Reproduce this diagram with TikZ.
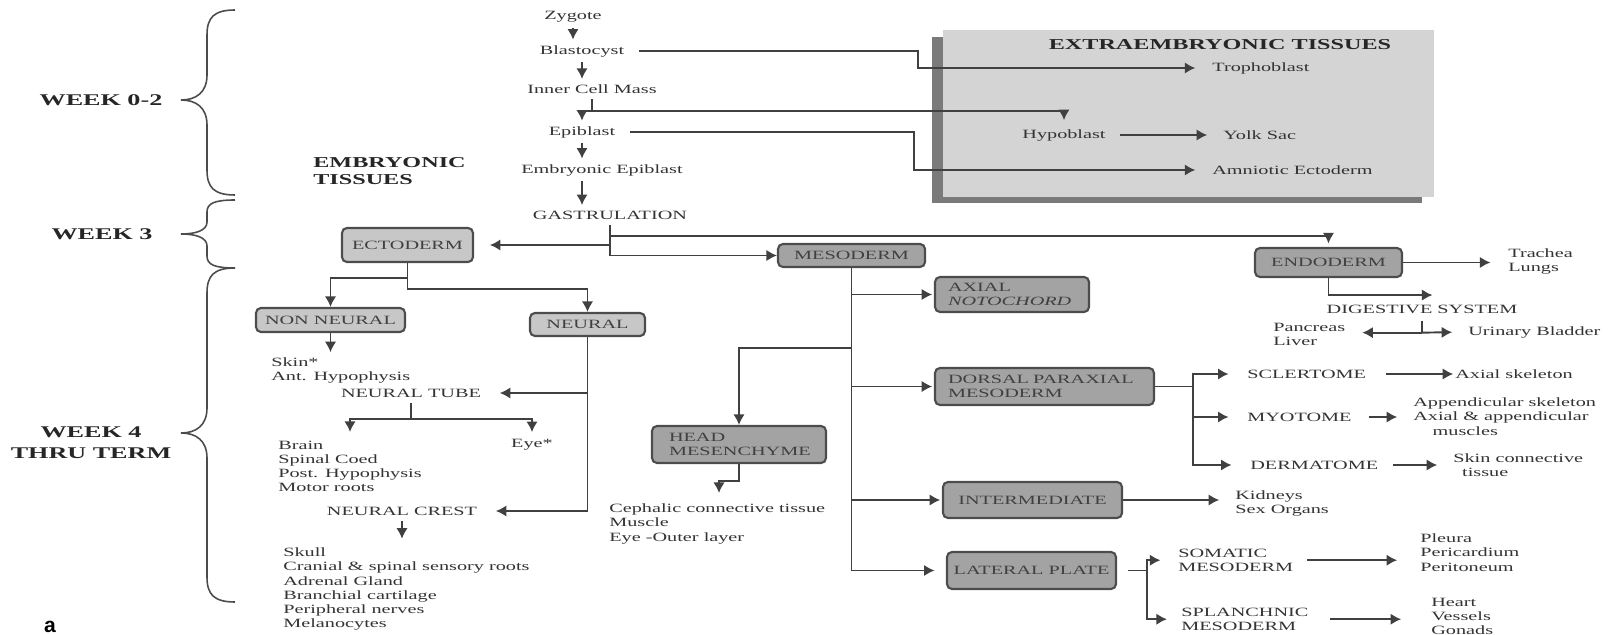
\documentclass[tikz,border=0pt]{standalone}
\usepackage{fontspec}
\setmainfont{Liberation Serif}[FakeStretch=1.6]
\setsansfont{Liberation Sans}
\usepackage{tikz}
\usetikzlibrary{arrows.meta,calc}

\definecolor{ectofill}{gray}{0.78}
\definecolor{mesofill}{gray}{0.64}
\definecolor{extrafill}{gray}{0.83}
\definecolor{extrashade}{gray}{0.48}
\definecolor{inkgray}{gray}{0.25}

\begin{document}
\begin{tikzpicture}[x=0.02cm,y=-0.02cm,font=\fontsize{7.2}{8.1}\selectfont]
	\tikzset{> = {Latex[length=6pt,width=6.5pt]},
		conn/.style = {draw=inkgray,line width=1.1pt},
		bracket/.style = {draw=black!70,line width=0.9pt},
		tissue/.style = {draw=black!70,line width=1.2pt,rounded corners=2.8pt,fill=mesofill,text=black!75,inner sep=0pt},
		ectobox/.style = {tissue,fill=ectofill},
		txt/.style = {inner sep=0pt,text=black!80},
		textblock/.style = {txt,align=left,anchor=north west},
		heading/.style = {txt,text=black!85,font=\fontsize{8.6}{9.7}\selectfont\bfseries}}
	\useasboundingbox (0,0) rectangle (1614,635);

	% week braces
	\foreach \ya/\yb/\yc/\cl in {10/100/195/25, 200/234/268/12, 268/433/602/25}
		\draw[bracket] (235,\ya) .. controls (214,\ya) and (207,\ya+0.3*\cl) .. (207,\ya+\cl) -- (207,\yb-\cl) .. controls (207,\yb-0.3*\cl) and (196,\yb) .. (181,\yb) .. controls (196,\yb) and (207,\yb+0.3*\cl) .. (207,\yb+\cl) -- (207,\yc-\cl) .. controls (207,\yc-0.3*\cl) and (214,\yc) .. (235,\yc);
	\node[heading,font=\fontsize{9.3}{12}\selectfont\bfseries] (wk02) at (101,100) {WEEK 0-2};
	\node[heading,font=\fontsize{9.3}{12}\selectfont\bfseries] (wk3) at (102,234) {WEEK 3};
	\node[heading,font=\fontsize{9.3}{12}\selectfont\bfseries,align=center] (wk4) at (91,443) {WEEK 4\\THRU TERM};
	\node[heading,align=left,anchor=north west] (embt) at (313,157) {EMBRYONIC\\TISSUES};
	\node[font=\sffamily\bfseries\fontsize{12}{14}\selectfont,inner sep=0pt] (lbl) at (50,627) {a};

	% extraembryonic panel
	\fill[extrashade] (932,37) rectangle (1422,203);
	\fill[extrafill] (943,30) rectangle (1434,197);
	\node[heading] (extra) at (1220,45) {EXTRAEMBRYONIC TISSUES};
	\node[txt,anchor=west] (tropho) at (1212,68) {Trophoblast};
	\node[txt] (hypo) at (1064,135) {Hypoblast};
	\node[txt,anchor=west] (yolk) at (1223,135) {Yolk Sac};
	\node[txt,anchor=west] (amnio) at (1212,170) {Amniotic Ectoderm};

	% weeks 0-2
	\node[txt] (zyg) at (573,17) {Zygote};
	\node[txt] (blast) at (582,51) {Blastocyst};
	\node[txt] (icm) at (592,89) {Inner Cell Mass};
	\node[txt] (epi) at (582,132) {Epiblast};
	\node[txt] (embepi) at (602,170) {Embryonic Epiblast};
	\node[txt] (gast) at (610,215) {GASTRULATION};

	\draw[conn,->,shorten <=3pt,shorten >=3pt] (zyg.south) -- (zyg.south |- blast.north);
	\draw[conn,->,shorten <=3pt,shorten >=3pt] (blast.south) -- (blast.south |- icm.north);
	\coordinate (icmT) at ($(icm.south)+(0,17)$);
	\draw[conn,shorten <=3pt] (icm.south) -- (icmT);
	\draw[conn,->,shorten >=3pt] (icmT -| epi.north) -- (epi.north);
	\draw[conn,->,shorten >=5pt] (icmT -| epi.north) -| (hypo.north);
	\draw[conn,->,shorten <=3pt,shorten >=3pt] (epi.south) -- (epi.south |- embepi.north);
	\draw[conn,->,shorten <=3pt,shorten >=3pt] (embepi.south -| epi.south) -- (epi.south |- gast.north);
	\draw[conn,->,shorten <=8.5pt,shorten >=9.5pt] (blast.east) -| ($(blast.east)!.5!(tropho.west)$) |- (tropho.west);
	\draw[conn,->,shorten <=8.5pt,shorten >=9.5pt] (epi.east) -| ($(epi.east)!.5!(amnio.west)$) |- (amnio.west);
	\draw[conn,->,shorten <=8pt,shorten >=9pt] (hypo.east) -- (yolk.west);

	% germ layers
	\node[ectobox,minimum width=2.62cm,minimum height=0.68cm] (ecto) at (407.5,245) {ECTODERM};
	\node[tissue,minimum width=2.94cm,minimum height=0.46cm] (meso) at (851.5,255.5) {MESODERM};
	\node[tissue,minimum width=2.94cm,minimum height=0.58cm] (endo) at (1328.5,262.5) {ENDODERM};

	\coordinate (gT) at ($(gast.south)+(0,16)$);
	\draw[conn,->,shorten <=3pt] (gast.south) |- (meso.west);
	\draw[conn,->,shorten >=2pt] (gT) -| (endo.north);
	\draw[conn,->,shorten >=9pt] (gT |- ecto.east) -- (ecto.east);

	% ectoderm
	\node[ectobox,minimum width=2.98cm,minimum height=0.48cm] (nonneural) at (330.5,320) {NON NEURAL};
	\node[ectobox,minimum width=2.3cm,minimum height=0.46cm] (neural) at (587.5,324.5) {NEURAL};
	\node[textblock] (skin) at (271,357.5) {Skin*\\Ant. Hypophysis};
	\node[txt] (ntube) at (411,393) {NEURAL TUBE};
	\node[textblock] (brain) at (278,440.5) {Brain\\Spinal Coed\\Post. Hypophysis\\Motor roots};
	\node[txt] (eye) at (532,445) {Eye*};
	\node[txt] (ncrest) at (402,511) {NEURAL CREST};
	\node[textblock] (skull) at (283,547.5) {Skull\\Cranial \& spinal sensory roots\\Adrenal Gland\\Branchial cartilage\\Peripheral nerves\\Melanocytes};

	\draw[conn,->] (ecto.south) -- ++(0,26) -| (neural.north);
	\draw[conn,->] ($(ecto.south)+(0,15)$) -| (nonneural.north);
	\draw[conn,->,shorten >=3pt] (nonneural.south) -- (nonneural.south |- skin.north);
	\draw[conn,->,shorten >=10.5pt] (neural.south) |- (ntube.east);
	\draw[conn,->,shorten >=10.5pt] (neural.south) |- (ncrest.east);
	\coordinate (ntT) at ($(ntube.south)+(0,21)$);
	\coordinate (brainin) at (350,432);
	\draw[conn,shorten <=3pt] (ntube.south) -- (ntT);
	\draw[conn,->,shorten >=4pt] (ntT) -| (eye.north);
	\draw[conn,->] (ntT) -| (brainin);
	\draw[conn,->,shorten <=3pt,shorten >=5pt] (ncrest.south) -- (ncrest.south |- skull.north);

	% mesoderm
	\node[tissue,minimum width=3.08cm,minimum height=0.7cm,text width=2.56cm,align=left] (axial) at (1012,294.5) {AXIAL\\\textit{NOTOCHORD}};
	\node[tissue,minimum width=4.38cm,minimum height=0.74cm,text width=3.86cm,align=left] (dorsal) at (1044.5,386.5) {DORSAL PARAXIAL\\MESODERM};
	\node[tissue,minimum width=3.58cm,minimum height=0.72cm] (inter) at (1032.5,500) {INTERMEDIATE};
	\node[tissue,minimum width=3.38cm,minimum height=0.74cm] (lateral) at (1031.5,570.5) {LATERAL PLATE};
	\node[tissue,minimum width=3.48cm,minimum height=0.74cm,text width=2.8cm,align=left] (head) at (739,444.5) {HEAD\\MESENCHYME};
	\node[textblock] (ceph) at (609,503.5) {Cephalic connective tissue\\Muscle\\Eye -Outer layer};

	\draw[conn,->,shorten >=6.5pt] (meso.south) |- (lateral.west);
	\draw[conn,->,shorten >=1pt] (meso.south |- axial.west) -- (axial.west);
	\draw[conn,->,shorten >=1pt] (meso.south |- dorsal.west) -- (dorsal.west);
	\draw[conn,->,shorten >=1pt] (meso.south |- inter.west) -- (inter.west);
	\draw[conn,->] ($(meso.south)+(0,80)$) -| (head.north);
	\coordinate (cephin) at (719,493);
	\draw[conn,->] (head.south) -- ++(0,17) -| (cephin);

	\node[txt,anchor=west] (sclero) at (1247,374) {SCLERTOME};
	\node[txt,anchor=west] (myo) at (1247,417) {MYOTOME};
	\node[txt,anchor=west] (derm) at (1250,465) {DERMATOME};
	\node[txt,anchor=west] (axskel) at (1455,374) {Axial skeleton};
	\node[textblock] (appskel) at (1413,397.5) {Appendicular skeleton\\Axial \& appendicular\\\hspace*{11pt}muscles};
	\node[textblock] (skinct) at (1453,453.5) {Skin connective\\\hspace*{5pt}tissue};
	\coordinate (dT) at ($(dorsal.east)+(38,0)$);
	\draw[conn] (dorsal.east) -- (dT);
	\foreach \n in {sclero,myo,derm}
		\draw[conn,->,shorten >=10.5pt] (dT) |- (\n.west);
	\draw[conn,->,shorten <=11pt,shorten >=1pt] (sclero.east) -- (axskel.west);
	\draw[conn,->,shorten <=9.5pt,shorten >=9pt] (myo.east) -- (myo.east -| appskel.west);
	\draw[conn,->,shorten <=8.5pt,shorten >=9pt] (derm.east) -- (derm.east -| skinct.west);

	\node[textblock] (kidneys) at (1235,490.5) {Kidneys\\Sex Organs};
	\draw[conn,->,shorten >=9pt] (inter.east) -- (inter.east -| kidneys.west);

	\node[textblock] (somatic) at (1178,548.5) {SOMATIC\\MESODERM};
	\node[textblock] (splanch) at (1181,607.5) {SPLANCHNIC\\MESODERM};
	\node[textblock] (pleura) at (1420,533.5) {Pleura\\Pericardium\\Peritoneum};
	\node[textblock] (heart) at (1431,597.5) {Heart\\Vessels\\Gonads};
	\coordinate (lT) at ($(lateral.east)+(30,0)$);
	\draw[conn,shorten <=6pt] (lateral.east) -- (lT);
	\draw[conn,->,shorten >=10pt] (lT) |- (somatic.west);
	\draw[conn,->,shorten >=8pt] (lT) |- (splanch.west);
	\draw[conn,->,shorten <=8pt,shorten >=13pt] (somatic.east) -- (somatic.east -| pleura.west);
	\draw[conn,->,shorten <=12pt,shorten >=17pt] (splanch.east) -- (splanch.east -| heart.west);

	% endoderm
	\node[textblock] (trachea) at (1508,248.5) {Trachea\\Lungs};
	\node[txt] (dig) at (1422,309) {DIGESTIVE SYSTEM};
	\node[textblock] (pancreas) at (1273,322.5) {Pancreas\\Liver};
	\node[txt,anchor=west] (urinary) at (1468,332) {Urinary Bladder};
	\draw[conn,->,shorten >=10pt] (endo.east) -- (endo.east -| trachea.west);
	\draw[conn,->] (endo.south) -- ++(0,17) -- ++(104,0);
	\coordinate (digT) at ($(dig.south)+(0,19)$);
	\draw[conn,shorten <=4pt] (dig.south) -- (digT);
	\draw[conn,->,shorten >=9.5pt] (digT) -- (digT -| pancreas.east);
	\draw[conn,->,shorten >=9pt] (digT) -- (urinary.west);
\end{tikzpicture}
\end{document}
